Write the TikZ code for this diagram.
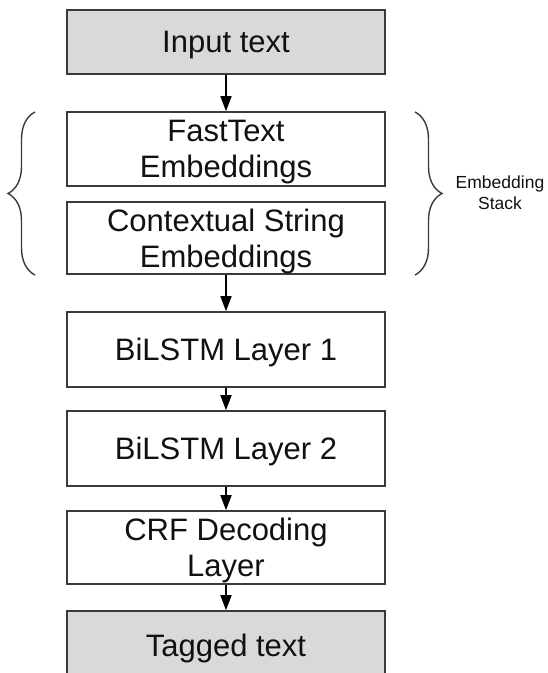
\documentclass[tikz,border=0pt]{standalone}
\usepackage{fontspec}
\setmainfont{Liberation Sans}
\usetikzlibrary{arrows.meta,decorations.pathreplacing}
\definecolor{boxline}{HTML}{3A3A3A}
\definecolor{boxfill}{HTML}{D9D9D9}
\definecolor{inktext}{HTML}{111111}
\begin{document}
\begin{tikzpicture}[x=1pt,y=-1pt,
  stagebox/.style={draw=boxline, line width=1.6pt, fill=white, minimum width=318pt, inner sep=0pt, align=center, font=\fontsize{31}{36}\selectfont, text=inktext, text depth=0pt},
  graybox/.style={stagebox, fill=boxfill},
  flow/.style={draw=black, line width=1.6pt, -{Triangle[width=11pt,length=15pt]}},
  stackbrace/.style={draw=boxline, line width=1.4pt, decorate, decoration={brace, amplitude=27pt}}
]
\useasboundingbox (0,0) rectangle (548,673);
\clip (0,0) rectangle (548,673);
\node[graybox, minimum height=64pt] (input) at (226,42) {Input text};
\node[stagebox, minimum height=74pt] (fast) at (226,149) {FastText\\Embeddings};
\node[stagebox, minimum height=72pt] (ctx) at (226,238) {Contextual String\\Embeddings};
\node[stagebox, minimum height=75pt] (bil1) at (226,349.5) {BiLSTM Layer 1};
\node[stagebox, minimum height=75pt] (bil2) at (226,448.5) {BiLSTM Layer 2};
\node[stagebox, minimum height=73pt] (crf) at (226,547.5) {CRF Decoding\\Layer};
\node[graybox, minimum height=69pt] (tag) at (226,645.5) {Tagged text};
\draw[flow] (input) -- (fast);
\draw[flow] (ctx) -- (bil1);
\draw[flow] (bil1) -- (bil2);
\draw[flow] (bil2) -- (crf);
\draw[flow] (crf) -- (tag);
\coordinate (lbT) at (35,112);
\coordinate (lbB) at (35,275);
\coordinate (rbT) at (415,112);
\coordinate (rbB) at (415,275);
\draw[stackbrace] (lbB) -- (lbT);
\draw[stackbrace] (rbT) -- (rbB);
\node[font=\fontsize{17.5}{21}\selectfont, align=center, text=inktext] (stack) at (500,193) {Embedding\\Stack};
\end{tikzpicture}
\end{document}
